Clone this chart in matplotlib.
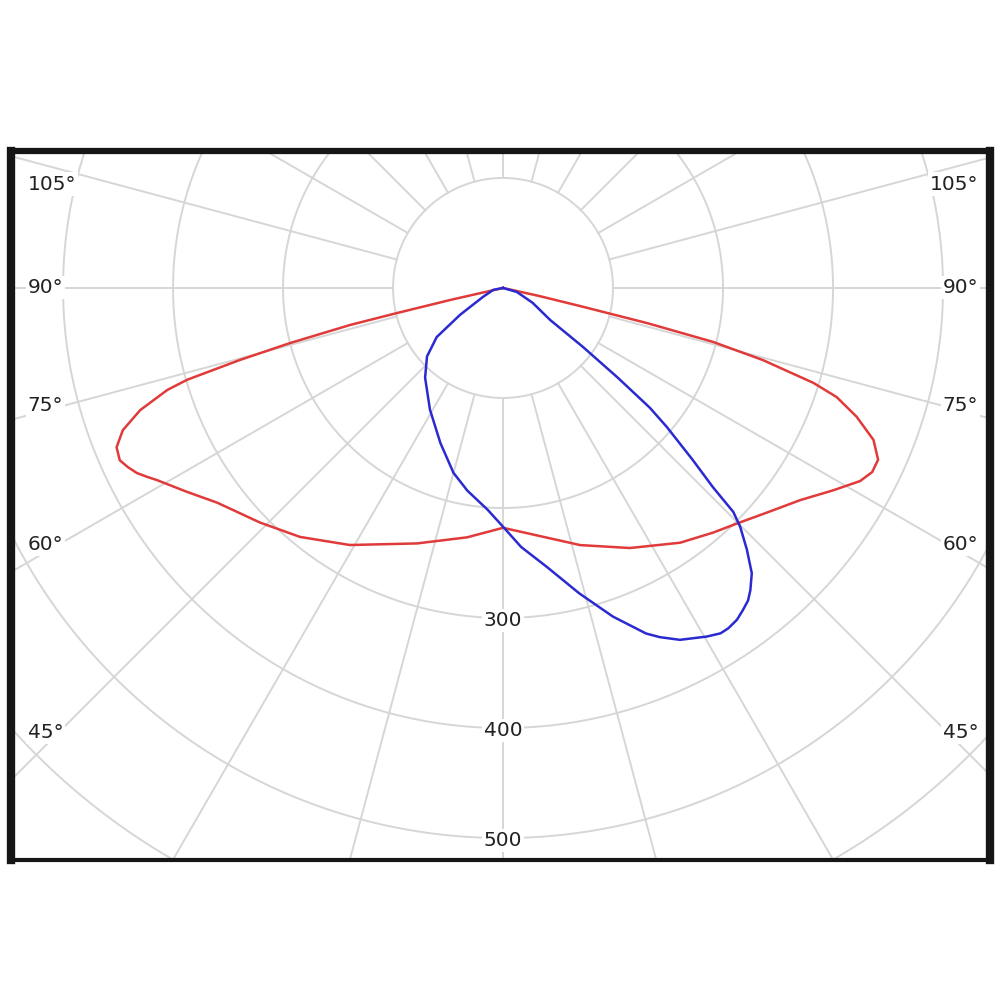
import numpy as np
import matplotlib
matplotlib.use("Agg")
import matplotlib.pyplot as plt

# polar intensity curves (gamma in degrees from nadir, intensity in cd)
red_left_gamma = [0, 8.2, 18.6, 30.8, 39.2, 46.0, 53.1, 57.2, 61.0, 62.0, 63.2, 64.5, 65.8,
                  67.6, 69.5, 71.4, 73.1, 73.8, 74.7, 75.5, 76.4, 76.7, 77.2, 90]
red_left_i = [218, 229, 245, 272, 292, 307, 325, 342, 360, 366, 373, 378, 382,
              380, 369, 348, 319, 299, 248, 200, 143, 99, 49, 0]

red_right_gamma = [0, 16.7, 26.0, 34.8, 40.6, 44.9, 49.6, 54.5, 58.5, 61.6, 63.5, 65.4,
                   67.7, 70.0, 71.9, 73.0, 74.5, 75.6, 76.3, 76.8, 77.5, 90]
red_right_i = [218, 244, 263, 282, 293, 302, 315, 332, 352, 369, 375, 375,
               364, 342, 319, 295, 245, 197, 135, 72, 33, 0]

blue_left_gamma = [0, 1.5, 4, 10, 15, 22, 31, 41, 48, 53.5, 58, 66, 79, 90]
blue_left_i = [217, 211, 202, 187, 174, 152, 129, 108, 93, 75, 46, 20, 9, 0]

blue_right_gamma = [0, 4, 9, 14, 18.5, 22.5, 24.2, 26.7, 30.3, 32.2, 33.5, 35.2, 36.7, 38.1,
                    39.3, 41.1, 43.0, 44.8, 45.8, 46.5, 47.8, 49.7, 50.8, 52.0, 53.6,
                    55.8, 63.4, 74, 90]
blue_right_i = [217, 236, 257, 286, 315, 340, 348, 358, 367, 371, 371, 369, 365, 361,
                355, 344, 325, 306, 292, 263, 233, 195, 172, 132, 90,
                52, 30, 13, 0]

ring_values = [300, 400, 500]
angle_labels = ["105°", "90°", "75°", "60°", "45°"]
angle_label_y = [94.5, 0, -107, -233, -404]   # label height in data units


def to_xy(gamma, inten, side):
    g = np.radians(gamma)
    r = np.asarray(inten, dtype=float)
    return side * r * np.sin(g), -r * np.cos(g)


fig = plt.figure(figsize=(10, 10), dpi=100)
ax = fig.add_axes([0.011, 0.1405, 0.979, 0.7085])
ax.set_xlim(-447.3, 442.7)
ax.set_ylim(-519.5, 124.5)

grid_c = "#d6d6d6"
t = np.linspace(0, 2 * np.pi, 400)
for r in range(100, 900, 100):
    ax.plot(r * np.cos(t), r * np.sin(t), color=grid_c, lw=1.4, zorder=1)
for a in range(0, 360, 15):
    th = np.radians(a)
    ax.plot([100 * np.sin(th), 1000 * np.sin(th)], [-100 * np.cos(th), -1000 * np.cos(th)],
            color=grid_c, lw=1.4, zorder=1)

# red curve (C0-C180)
lx, ly = to_xy(red_left_gamma, red_left_i, -1)
rx, ry = to_xy(red_right_gamma, red_right_i, 1)
ax.plot(np.concatenate([lx[::-1], rx]), np.concatenate([ly[::-1], ry]),
        color="#e03a3a", lw=1.8, solid_joinstyle="round", zorder=3)

# blue curve (C90-C270)
lx, ly = to_xy(blue_left_gamma, blue_left_i, -1)
rx, ry = to_xy(blue_right_gamma, blue_right_i, 1)
ax.plot(np.concatenate([lx[::-1], rx]), np.concatenate([ly[::-1], ry]),
        color="#2a2ad0", lw=1.8, solid_joinstyle="round", zorder=4)

box = dict(facecolor="white", edgecolor="none", pad=1.5)
for v in ring_values:
    ax.text(0, -v - 2, str(v), ha="center", va="center", fontsize=14.5,
            color="#222222", bbox=box, zorder=2)
for lab, y in zip(angle_labels, angle_label_y):
    ax.text(-432, y, lab, ha="left", va="center", fontsize=14.5,
            color="#222222", bbox=box, zorder=2)
    ax.text(432, y, lab, ha="right", va="center", fontsize=14.5,
            color="#222222", bbox=box, zorder=2)

ax.set_xticks([])
ax.set_yticks([])
for side, w in (("left", 6), ("right", 6), ("top", 4.5), ("bottom", 3)):
    ax.spines[side].set_linewidth(w)
    ax.spines[side].set_color("#161616")

fig.savefig("out.png", dpi=100, facecolor="white")
